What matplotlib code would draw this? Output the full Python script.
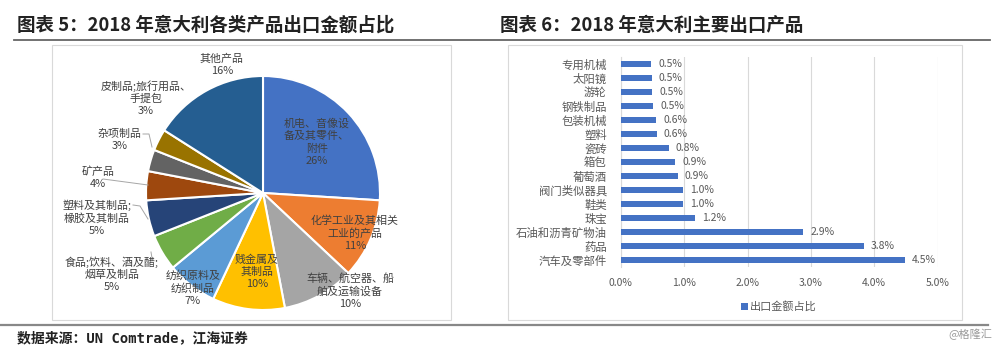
import matplotlib
matplotlib.use("Agg")
import matplotlib.pyplot as plt
from matplotlib.patches import Rectangle
from matplotlib.lines import Line2D

CJK = ['Noto Sans CJK SC', 'DejaVu Sans']
plt.rcParams['font.family'] = CJK

# ---------------- data ----------------
pie_labels = ["机电、音像设\n备及其零件、\n附件", "化学工业及其相关\n工业的产品", "车辆、航空器、船\n舶及运输设备",
              "贱金属及\n其制品", "纺织原料及\n纺织制品", "食品;饮料、酒及醋;\n烟草及制品",
              "塑料及其制品;\n橡胶及其制品", "矿产品", "杂项制品", "皮制品;旅行用品、\n手提包", "其他产品"]
pie_values = [26, 11, 10, 10, 7, 5, 5, 4, 3, 3, 16]
pie_colors = ["#4472C4", "#ED7D31", "#A5A5A5", "#FFC000", "#5B9BD5", "#70AD47",
              "#264478", "#9E480E", "#636363", "#997300", "#255E91"]

bar_labels = ["专用机械", "太阳镜", "游轮", "钢铁制品", "包装机械", "塑料", "瓷砖", "箱包", "葡萄酒",
              "阀门类似器具", "鞋类", "珠宝", "石油和沥青矿物油", "药品", "汽车及零部件"]
bar_values = [0.48, 0.49, 0.50, 0.51, 0.56, 0.57, 0.76, 0.86, 0.90, 0.98, 0.99, 1.17, 2.88, 3.84, 4.48]
bar_ticks = [0, 1, 2, 3, 4, 5]
bar_series = "出口金额占比"

W, H = 1000, 349
fig = plt.figure(figsize=(W / 100, H / 100), dpi=100)


def fx(x):
    return x / W


def fy(y):
    return 1 - y / H


# ---------------- frame / titles ----------------
fig.text(fx(17), fy(25), "图表 5：2018 年意大利各类产品出口金额占比", fontsize=13.3, fontweight='bold',
         color='#222222', va='center', ha='left', family=CJK)
fig.text(fx(500), fy(25), "图表 6：2018 年意大利主要出口产品", fontsize=13.3, fontweight='bold',
         color='#222222', va='center', ha='left', family=CJK)
fig.add_artist(Line2D([fx(14), fx(990)], [fy(40), fy(40)], color='#666666', lw=1.3))
fig.add_artist(Line2D([fx(0), fx(988)], [fy(325), fy(325)], color='#888888', lw=1.6))
fig.add_artist(Rectangle((fx(52), fy(320)), fx(451) - fx(52), fy(45) - fy(320), fill=False,
                         edgecolor='#D9D9D9', lw=0.8))
fig.add_artist(Rectangle((fx(508), fy(320)), fx(962) - fx(508), fy(45) - fy(320), fill=False,
                         edgecolor='#D9D9D9', lw=0.8))
fig.text(fx(17), fy(338), "数据来源：UN Comtrade，江海证券", fontsize=10, fontweight='bold',
         color='#222222', va='center', ha='left', family=['DejaVu Sans Mono', 'Noto Sans CJK SC'])
fig.text(fx(992), fy(334), "@格隆汇", fontsize=8, color='#9A9A9A', va='center', ha='right', family=CJK)

# ---------------- pie ----------------
cx, cy, R = 263, 193, 117.0
half = 140
axp = fig.add_axes([fx(cx - half), fy(cy + half), 2 * half / W, 2 * half / H])
axp.pie(pie_values, colors=pie_colors, startangle=90, counterclock=False, radius=1.0,
        wedgeprops=dict(edgecolor='white', linewidth=1.5))
axp.set_aspect('auto')
axp.set_xlim(-half / R, half / R)
axp.set_ylim(-half / R, half / R)
axp.axis('off')


def pd(px, py):
    return ((px - cx) / R, -(py - cy) / R)


label_pos = [(317, 142), (355, 233), (350, 291), (257, 272), (193, 288), (112, 274),
             (97, 218), (98, 178), (120, 140), (146, 98), (222, 65)]
for lab, val, (px, py) in zip(pie_labels, pie_values, label_pos):
    x, y = pd(px, py)
    axp.text(x, y, f"{lab}\n{val}%", ha='center', va='center', fontsize=7.9, color='#404040',
             linespacing=1.25, family=CJK, clip_on=False)

# leader lines
lc = '#A6A6A6'
for pts in [[(143, 134), (149, 134), (152, 147)],
            [(103, 179), (148, 185)],
            [(133, 205), (140, 206), (148, 219)],
            [(150, 263), (152, 258), (151, 252)]]:
    xs, ys = zip(*[pd(a, b) for a, b in pts])
    axp.plot(xs, ys, color=lc, lw=0.7, clip_on=False)

# ---------------- bar chart ----------------
axb = fig.add_axes([fx(620.7), fy(267), (937.7 - 620.7) / W, 210 / H])
n = len(bar_labels)
ypos = list(range(n))[::-1]
axb.barh(ypos, bar_values, height=0.37, color='#4472C4', label=bar_series, zorder=3)
axb.set_xlim(0, 5)
axb.set_ylim(-0.5, n - 0.5)
axb.set_yticks(ypos)
axb.set_yticklabels(bar_labels, fontsize=8.2, color='#595959', family=CJK)
axb.set_xticks(bar_ticks)
axb.set_xticklabels([f"{t:.1f}%" for t in bar_ticks], fontsize=7.5, color='#595959')
axb.tick_params(axis='y', length=0, pad=10)
axb.tick_params(axis='x', length=0, pad=8)
axb.grid(axis='x', color='#D9D9D9', lw=0.8, zorder=0)
for s in ['top', 'right', 'bottom']:
    axb.spines[s].set_visible(False)
axb.spines['left'].set_color('#D9D9D9')
axb.spines['left'].set_linewidth(0.8)
for yv, v in zip(ypos, bar_values):
    axb.text(v + 0.11, yv, f"{v:.1f}%", va='center', ha='left', fontsize=7.5, color='#595959')

leg = axb.legend(loc='center', bbox_to_anchor=(0.5, -0.19), frameon=False,
                 handlelength=0.6, handleheight=0.6, handletextpad=0.2, prop={'family': CJK, 'size': 8})
for t in leg.get_texts():
    t.set_color('#595959')

fig.savefig("out.png", dpi=100, facecolor='white')
